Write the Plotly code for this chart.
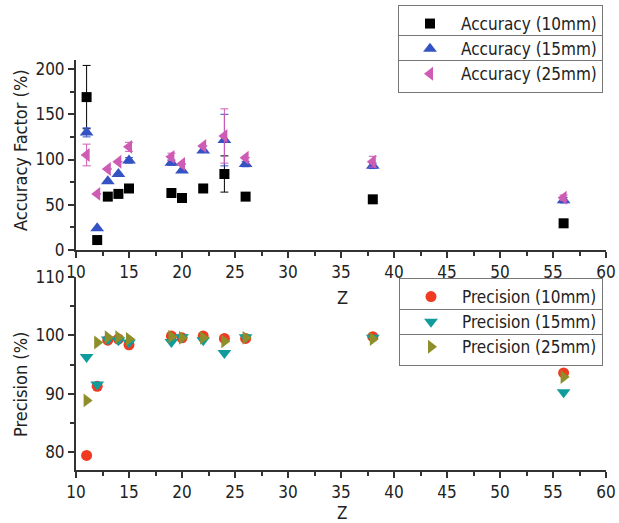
import plotly.graph_objects as go

Z = [11, 12, 13, 14, 15, 19, 20, 22, 24, 26, 38, 56]

acc_10 = [169, 11, 59, 62, 68, 63, 57.5, 68, 84, 59, 56, 29.5]
acc_10_err = [35, 0, 0, 0, 0, 0, 0, 0, 20, 0, 0, 0]
acc_15 = [130, 24, 76, 84, 99, 96.5, 88, 110, 121.5, 95, 93, 55]
acc_15_err = [5, 0, 0, 0, 3, 3, 0, 0, 28.5, 3, 3, 3]
acc_25 = [105, 62, 89.5, 97.6, 114, 103, 95, 115, 126, 102, 97.6, 57.8]
acc_25_err = [12, 0, 0, 0, 5, 4, 0, 0, 30, 0, 6, 3]

prec_10 = [79.5, 91.3, 99.2, 99.4, 98.4, 99.9, 99.6, 99.9, 99.5, 99.5, 99.8, 93.6]
prec_15 = [96.3, 91.6, 99.3, 99.2, 98.8, 98.9, 99.7, 99.2, 97.0, 99.7, 99.6, 90.3]
prec_25 = [88.9, 98.8, 99.7, 99.7, 99.4, 99.8, 99.6, 99.6, 99.0, 99.6, 99.4, 92.9]

FONT = "DejaVu Sans Condensed, Liberation Sans Narrow, Arial, sans-serif"
W, H = 619, 523
ML, MR, MT, MB = 76, 13, 10, 10
PW, PH = W - ML - MR, H - MT - MB


def px_x(px):
    return (px - ML) / PW


def px_y(py):
    return (H - MB - py) / PH


fig = go.Figure()

def add(y, name, color, symbol, size, axis, legend, err=None):
    kw = {}
    if err is not None:
        kw["error_y"] = dict(type="data", array=err, visible=True, color=color,
                             thickness=1, width=4)
    fig.add_trace(go.Scatter(
        x=Z, y=y, name=name, mode="markers",
        marker=dict(color=color, symbol=symbol, size=size, line=dict(width=0)),
        xaxis="x" if axis == 1 else "x2", yaxis="y" if axis == 1 else "y2",
        legend=legend, **kw))

add(acc_10, "Accuracy (10mm)", "#000000", "square", 10, 1, "legend", acc_10_err)
add(acc_15, "Accuracy (15mm)", "#3552c4", "triangle-up", 12, 1, "legend", acc_15_err)
add(acc_25, "Accuracy (25mm)", "#cf5cb4", "triangle-left", 12, 1, "legend", acc_25_err)
add(prec_10, "Precision (10mm)", "#f03a22", "circle", 11, 2, "legend2")
add(prec_15, "Precision (15mm)", "#109c9c", "triangle-down", 12, 2, "legend2")
add(prec_25, "Precision (25mm)", "#8e8e2a", "triangle-right", 12, 2, "legend2")

axis_common = dict(
    showline=True, linecolor="#333", linewidth=2, ticks="outside", ticklen=6,
    tickwidth=1.5, tickcolor="#333", showgrid=False, zeroline=False,
    tickfont=dict(family=FONT, size=17, color="#222"), mirror=False,
)

leg_common = dict(xanchor="right", yanchor="top", bordercolor="#777", borderwidth=1,
                  bgcolor="rgba(255,255,255,0)",
                  font=dict(family=FONT, size=17, color="#222"),
                  tracegroupgap=0, itemwidth=52)

fig.update_layout(
    width=W, height=H,
    margin=dict(l=ML, r=MR, t=MT, b=MB, autoexpand=False),
    paper_bgcolor="white", plot_bgcolor="white",
    font=dict(family=FONT, size=16, color="#222"),
    xaxis=dict(domain=[0, 1], range=[10, 60], dtick=5, anchor="y",
               minor=dict(dtick=2.5, ticks="outside", ticklen=4, tickcolor="#333"),
               **axis_common),
    yaxis=dict(domain=[px_y(250), px_y(60)], range=[0, 210], dtick=50, anchor="x",
               minor=dict(dtick=25, ticks="outside", ticklen=4, tickcolor="#333"),
               **axis_common),
    xaxis2=dict(domain=[0, 1], range=[10, 60], dtick=5, anchor="y2",
                minor=dict(dtick=2.5, ticks="outside", ticklen=4, tickcolor="#333"),
                **axis_common),
    yaxis2=dict(domain=[px_y(470), px_y(277)], range=[77, 110], dtick=10, anchor="x2",
                minor=dict(dtick=5, ticks="outside", ticklen=4, tickcolor="#333"),
                **axis_common),
    legend=dict(x=px_x(603), y=px_y(5), **leg_common),
    legend2=dict(x=px_x(603), y=px_y(278), **leg_common),
    showlegend=True,
)

# row separators inside the legend boxes
for top, seps in ((5, (35.5, 60.5)), (278, (309.5, 334.5))):
    for s in seps:
        yy = px_y(s)
        fig.add_shape(type="line", xref="paper", yref="paper",
                      x0=px_x(399), x1=px_x(603), y0=yy, y1=yy,
                      line=dict(color="#777", width=1))

annots = [
    dict(text="Accuracy Factor (%)", x=px_x(20), y=px_y(150), textangle=-90, size=18),
    dict(text="Precision (%)", x=px_x(20), y=px_y(385), textangle=-90, size=18),
    dict(text="Z", x=px_x(342), y=px_y(297), textangle=0, size=18),
    dict(text="Z", x=px_x(342), y=px_y(513), textangle=0, size=17),
]
for a in annots:
    fig.add_annotation(text=a["text"], x=a["x"], y=a["y"], xref="paper", yref="paper",
                       showarrow=False, textangle=a["textangle"],
                       font=dict(family=FONT, size=a["size"], color="#222"),
                       xanchor="center", yanchor="middle")

fig.write_html("out.html")
